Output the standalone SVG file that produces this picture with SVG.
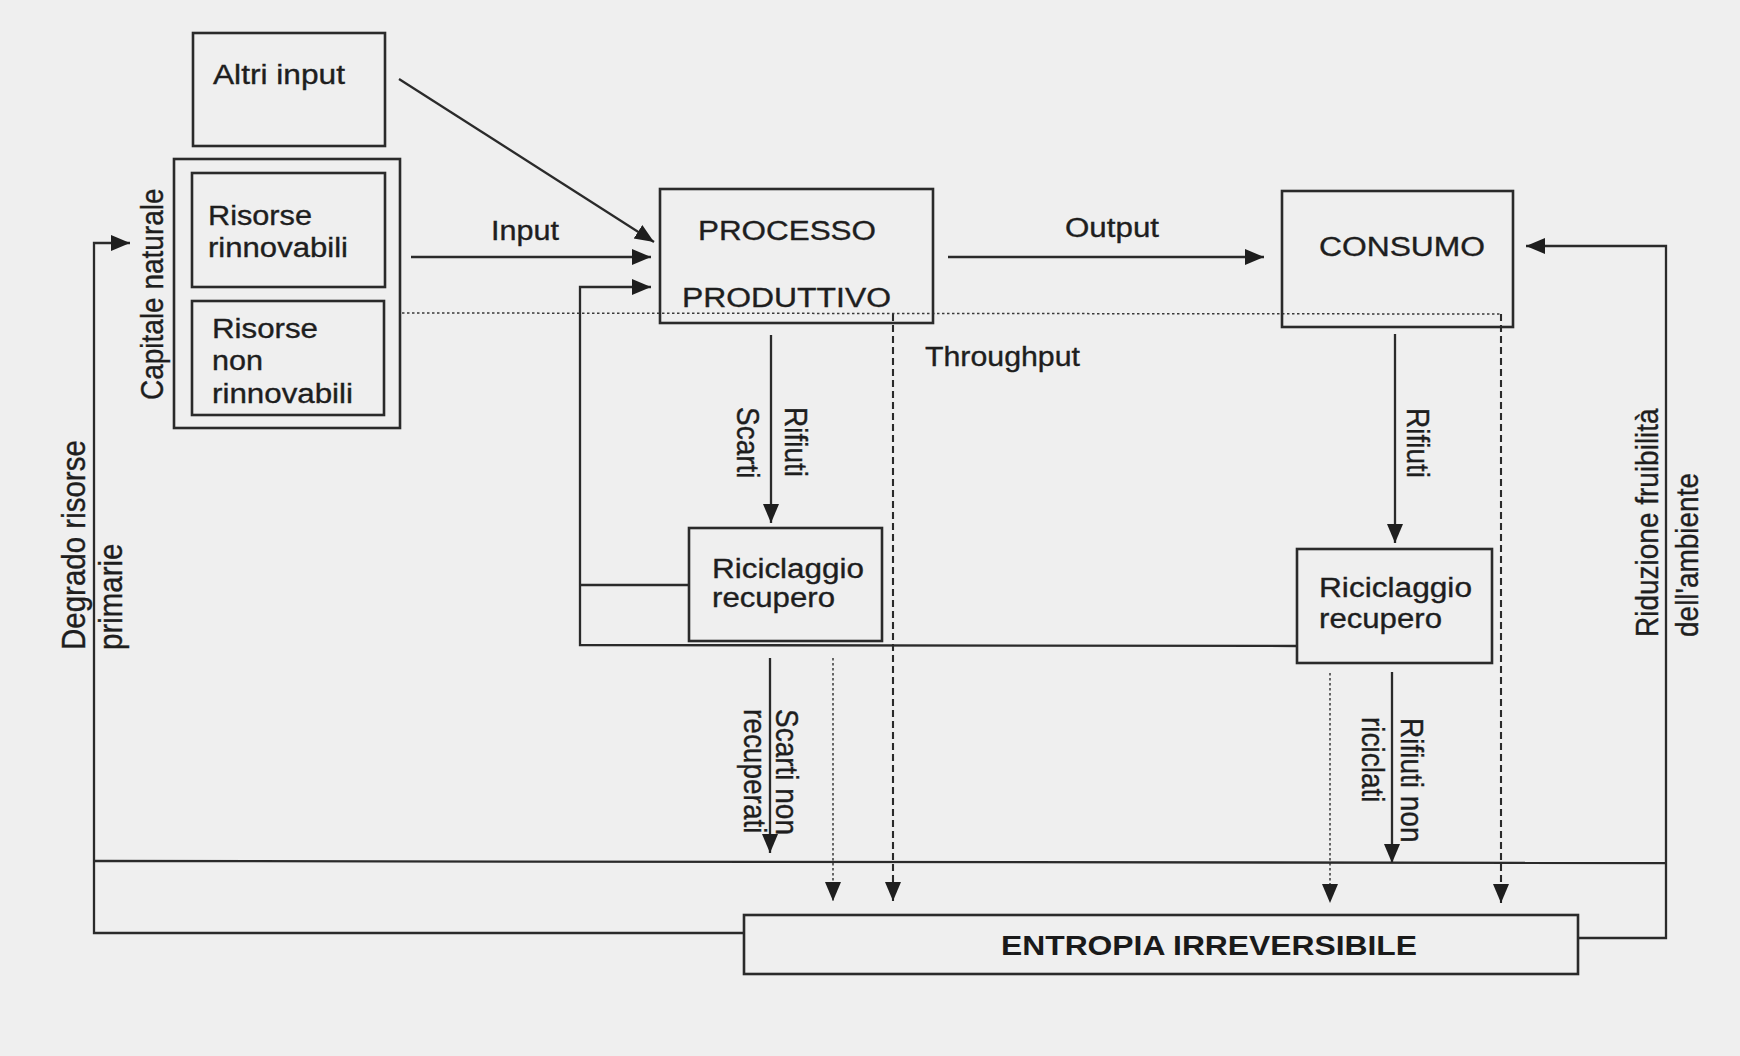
<svg xmlns="http://www.w3.org/2000/svg" width="1740" height="1056" viewBox="0 0 1740 1056">
<style>
.bx{fill:none;stroke:#2a2a2a;stroke-width:2.6}
.ln{fill:none;stroke:#2a2a2a;stroke-width:2.3}
.dash{fill:none;stroke:#2a2a2a;stroke-width:2.1;stroke-dasharray:7 4}
.dot{fill:none;stroke:#3a3a3a;stroke-width:1.5;stroke-dasharray:2.5 2.5}
.t{font-family:"Liberation Sans",Arial,sans-serif;font-size:27px;fill:#1e1e1e;stroke:#1e1e1e;stroke-width:0.35}
.r{font-family:"Liberation Sans",Arial,sans-serif;font-size:28px;fill:#1e1e1e;stroke:#1e1e1e;stroke-width:0.35}
.b{font-family:"Liberation Sans",Arial,sans-serif;font-size:27px;font-weight:bold;fill:#1a1a1a}
</style>
<defs>
<marker id="ah" markerUnits="userSpaceOnUse" markerWidth="20" markerHeight="18" viewBox="0 0 20 18" refX="19" refY="9" orient="auto">
<path d="M0,1 L19,9 L0,17 Z" fill="#1e1e1e"/>
</marker>
</defs>
<rect x="0" y="0" width="1740" height="1056" fill="#efefef"/>

<g id="connectors">
<line class="ln" x1="399" y1="79" x2="654" y2="242" marker-end="url(#ah)"/>
<line class="ln" x1="411" y1="257" x2="651" y2="257" marker-end="url(#ah)"/>
<polyline class="ln" points="1297,646 580,645 580,287 651,287" marker-end="url(#ah)"/>
<line class="ln" x1="689" y1="585" x2="580" y2="585"/>
<line class="ln" x1="948" y1="257" x2="1264" y2="257" marker-end="url(#ah)"/>
<line class="ln" x1="771" y1="335" x2="771" y2="523" marker-end="url(#ah)"/>
<line class="ln" x1="1395" y1="334" x2="1395" y2="543" marker-end="url(#ah)"/>
<line class="ln" x1="770" y1="658" x2="770" y2="853" marker-end="url(#ah)"/>
<line class="ln" x1="1392" y1="672" x2="1392" y2="863" marker-end="url(#ah)"/>
<line class="dot" x1="833" y1="658" x2="833" y2="901" marker-end="url(#ah)"/>
<line class="dot" x1="1330" y1="673" x2="1330" y2="903" marker-end="url(#ah)"/>
<line class="dash" x1="893" y1="314" x2="893" y2="901" marker-end="url(#ah)"/>
<line class="dash" x1="1501" y1="314" x2="1501" y2="903" marker-end="url(#ah)"/>
<line class="dot" x1="402" y1="313" x2="1502" y2="314"/>
<line class="ln" x1="94" y1="861" x2="1666" y2="863"/>
<polyline class="ln" points="744,933 94,933 94,243 130,243" marker-end="url(#ah)"/>
<polyline class="ln" points="1578,938 1666,938 1666,246 1526,246" marker-end="url(#ah)"/>
</g>

<g id="altri-input">
<rect class="bx" x="193" y="33" width="192" height="113"/>
<text class="t" x="213" y="84" textLength="132" lengthAdjust="spacingAndGlyphs">Altri input</text>
</g>

<g id="capitale-naturale">
<rect class="bx" x="174" y="159" width="226" height="269"/>
<text class="r" transform="translate(163,400) scale(1.15,1) rotate(-90)">Capitale naturale</text>
</g>

<g id="risorse-rinnovabili">
<rect class="bx" x="192" y="173" width="193" height="114"/>
<text class="t" x="208" y="225" textLength="104" lengthAdjust="spacingAndGlyphs">Risorse</text>
<text class="t" x="208" y="257" textLength="140" lengthAdjust="spacingAndGlyphs">rinnovabili</text>
</g>

<g id="risorse-non-rinnovabili">
<rect class="bx" x="192" y="301" width="192" height="114"/>
<text class="t" x="212" y="338" textLength="106" lengthAdjust="spacingAndGlyphs">Risorse</text>
<text class="t" x="212" y="370" textLength="51" lengthAdjust="spacingAndGlyphs">non</text>
<text class="t" x="212" y="403" textLength="141" lengthAdjust="spacingAndGlyphs">rinnovabili</text>
</g>

<g id="processo-produttivo">
<rect class="bx" x="660" y="189" width="273" height="134"/>
<text class="t" x="698" y="240" textLength="178" lengthAdjust="spacingAndGlyphs">PROCESSO</text>
<text class="t" x="682" y="307" textLength="209" lengthAdjust="spacingAndGlyphs">PRODUTTIVO</text>
</g>

<g id="consumo">
<rect class="bx" x="1282" y="191" width="231" height="136"/>
<text class="t" x="1319" y="256" textLength="166" lengthAdjust="spacingAndGlyphs">CONSUMO</text>
</g>

<g id="riciclaggio-1">
<rect class="bx" x="689" y="528" width="193" height="113"/>
<text class="t" x="712" y="578" textLength="152" lengthAdjust="spacingAndGlyphs">Riciclaggio</text>
<text class="t" x="712" y="607" textLength="123" lengthAdjust="spacingAndGlyphs">recupero</text>
</g>

<g id="riciclaggio-2">
<rect class="bx" x="1297" y="549" width="195" height="114"/>
<text class="t" x="1319" y="597" textLength="153" lengthAdjust="spacingAndGlyphs">Riciclaggio</text>
<text class="t" x="1319" y="628" textLength="123" lengthAdjust="spacingAndGlyphs">recupero</text>
</g>

<g id="entropia-irreversibile">
<rect class="bx" x="744" y="915" width="834" height="59"/>
<text class="b" x="1001" y="955" textLength="416" lengthAdjust="spacingAndGlyphs">ENTROPIA IRREVERSIBILE</text>
</g>

<g id="labels">
<text class="t" x="491" y="240" textLength="68" lengthAdjust="spacingAndGlyphs">Input</text>
<text class="t" x="1065" y="237" textLength="94" lengthAdjust="spacingAndGlyphs">Output</text>
<text class="t" x="925" y="366" textLength="155" lengthAdjust="spacingAndGlyphs">Throughput</text>
<text class="r" transform="translate(785,407) scale(1.15,1) rotate(90)">Rifiuti</text>
<text class="r" transform="translate(737,407) scale(1.15,1) rotate(90)">Scarti</text>
<text class="r" transform="translate(776,709) scale(1.15,1) rotate(90)">Scarti non</text>
<text class="r" transform="translate(744,709) scale(1.15,1) rotate(90)">recuperati</text>
<text class="r" transform="translate(1407,408) scale(1.15,1) rotate(90)">Rifiuti</text>
<text class="r" transform="translate(1401,718) scale(1.15,1) rotate(90)">Rifiuti non</text>
<text class="r" transform="translate(1362,717) scale(1.15,1) rotate(90)">riciclati</text>
<text class="r" transform="translate(1658,637) scale(1.15,1) rotate(-90)">Riduzione fruibilità</text>
<text class="r" transform="translate(1698,637) scale(1.15,1) rotate(-90)">dell'ambiente</text>
<text class="r" style="font-size:29.5px" transform="translate(85,650) scale(1.12,1) rotate(-90)">Degrado risorse</text>
<text class="r" style="font-size:29.5px" transform="translate(122,650) scale(1.12,1) rotate(-90)">primarie</text>
</g>
</svg>
